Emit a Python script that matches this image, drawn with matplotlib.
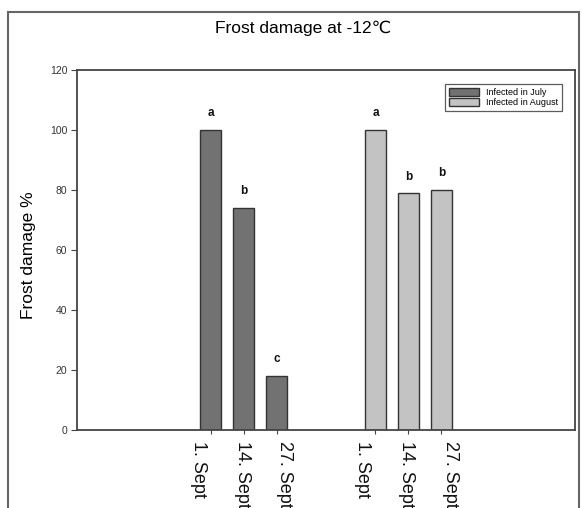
import matplotlib
matplotlib.use("Agg")
import matplotlib.pyplot as plt
import matplotlib.transforms as mtransforms
from matplotlib.patches import Rectangle

plt.rcParams['font.family'] = ['Liberation Sans', 'DejaVu Sans']

# ---- data ----
dates = ["1. Sept", "14. Sept", "27. Sept"]
july_values = [100, 74, 18]
august_values = [100, 79, 80]
july_letters = ["a", "b", "c"]
august_letters = ["a", "b", "b"]
series_names = ["Infected in July", "Infected in August"]
title = "Frost damage at -12℃"
ylabel = "Frost damage %"
yticks = [0, 20, 40, 60, 80, 100, 120]

july_pos = [0, 1, 2]
august_pos = [5, 6, 7]

dark = "#727272"
light = "#c3c3c3"
edge = "#333333"

fig = plt.figure(figsize=(5.82, 5.08), dpi=100)
ax = fig.add_axes([77/582, 1-430/508, (575-77)/582, (430-70)/508])

w = 0.64
ax.bar(july_pos, july_values, width=w, color=dark, edgecolor=edge, linewidth=1.0, label=series_names[0])
ax.bar(august_pos, august_values, width=w, color=light, edgecolor=edge, linewidth=1.0, label=series_names[1])

for x, v, t in zip(july_pos, july_values, july_letters):
    ax.text(x, v + 3.5, t, ha='center', va='bottom', fontsize=8.5, fontweight='bold', color='#111111')
for x, v, t in zip(august_pos, august_values, august_letters):
    ax.text(x, v + 3.5, t, ha='center', va='bottom', fontsize=8.5, fontweight='bold', color='#111111')

ax.set_xlim(-4.05, 11.05)
ax.set_ylim(0, 120)
ax.set_yticks(yticks)
ax.set_yticklabels([str(v) for v in yticks], fontsize=7.5, color='#333333')
ax.tick_params(axis='y', direction='out', length=4, width=0.8, colors='#444444', labelcolor='#333333', pad=3)

ax.set_xticks(july_pos + august_pos)
ax.set_xticklabels(dates + dates, rotation=270, fontsize=13, va='top', ha='center')
ax.tick_params(axis='x', direction='out', length=3, width=0.8, colors='#444444', labelcolor='#111111', pad=5)

offsets_px = [-12, -1.5, 8, -13, -2, 9]
for lab, dx in zip(ax.get_xticklabels(), offsets_px):
    lab.set_transform(lab.get_transform() + mtransforms.ScaledTranslation(dx/100, 0, fig.dpi_scale_trans))

for s in ax.spines.values():
    s.set_color('#444444')
    s.set_linewidth(1.3)

leg = ax.legend(loc='upper right', fontsize=6.5, frameon=True, fancybox=False,
                edgecolor='#333333', handlelength=3.3, handleheight=1.0,
                borderpad=0.45, labelspacing=0.15, handletextpad=0.8,
                bbox_to_anchor=(0.983, 0.975))
leg.get_frame().set_linewidth(0.9)

fig.text(0.5 + 12/582, 1-28/508, title, ha='center', va='center', fontsize=12.5)
fig.text(28/582, 1-255/508, ylabel, ha='center', va='center', rotation=90, fontsize=12.5)

fig.patches.append(Rectangle((8/582, -0.1), (579-8)/582, 1.1 - 12/508, transform=fig.transFigure,
                             fill=False, edgecolor='#666666', linewidth=1.5))

fig.savefig("out.png", dpi=100)
